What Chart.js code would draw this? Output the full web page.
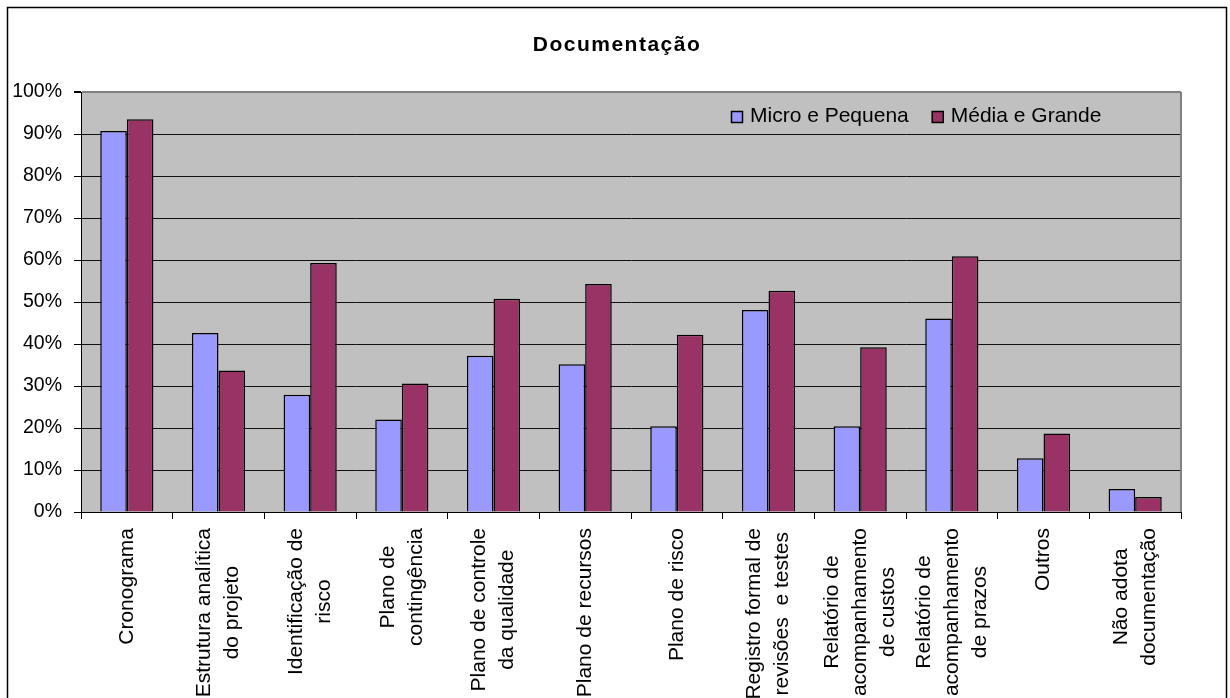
<!DOCTYPE html>
<html>
<head>
<meta charset="utf-8">
<script src="https://cdn.jsdelivr.net/npm/chart.js@4/dist/chart.umd.min.js"></script>
<style>
  body { margin: 0; background: #fff; overflow: hidden; }
</style>
</head>
<body>
<canvas id="myChart" width="1230" height="698"></canvas>
<script>
// dados (em %)
var titulo = 'Documentação';
var categorias = [
    ['Cronograma'],
    ['Estrutura analítica', 'do projeto'],
    ['Identificação de', 'risco'],
    ['Plano de', 'contingência'],
    ['Plano de controle', 'da qualidade'],
    ['Plano de recursos'],
    ['Plano de risco'],
    ['Registro formal de', 'revisões  e testes'],
    ['Relatório de', 'acompanhamento', 'de custos'],
    ['Relatório de', 'acompanhamento', 'de prazos'],
    ['Outros'],
    ['Não adota', 'documentação']
];
var microPequena = [90.7, 42.6, 27.9, 22.0, 37.2, 35.2, 20.4, 48.1, 20.4, 46.1, 12.8, 5.5];
var mediaGrande = [93.5, 33.7, 59.3, 30.6, 50.8, 54.3, 42.2, 52.7, 39.2, 60.9, 18.7, 3.6];
var nomesSeries = ['Micro e Pequena', 'Média e Grande'];
var yTicks = [0, 10, 20, 30, 40, 50, 60, 70, 80, 90, 100];

var fonte = "'Liberation Sans', Arial, sans-serif";

// fundo cinza, moldura, titulo, legenda e rotulos do eixo x
var extras = {
    id: 'extras',
    beforeDraw: function (chart) {
        var ctx = chart.ctx;
        var a = chart.chartArea;
        ctx.save();
        ctx.fillStyle = '#c0c0c0';
        ctx.fillRect(a.left, a.top, a.right - a.left, a.bottom - a.top);
        ctx.restore();
    },
    afterDraw: function (chart) {
        var ctx = chart.ctx;
        var a = chart.chartArea;
        ctx.save();

        // borda direita da area do grafico
        ctx.strokeStyle = '#808080';
        ctx.lineWidth = 2;
        ctx.beginPath();
        ctx.moveTo(a.right, a.top);
        ctx.lineTo(a.right, a.bottom);
        ctx.stroke();

        // moldura externa
        ctx.strokeStyle = '#000';
        ctx.lineWidth = 1.5;
        ctx.beginPath();
        ctx.moveTo(7.5, 720);
        ctx.lineTo(7.5, 7.5);
        ctx.lineTo(1226.5, 7.5);
        ctx.lineTo(1226.5, 720);
        ctx.stroke();

        // titulo
        ctx.fillStyle = '#000';
        ctx.font = 'bold 21px ' + fonte;
        ctx.letterSpacing = '1.5px';
        ctx.textAlign = 'center';
        ctx.textBaseline = 'alphabetic';
        ctx.fillText(titulo, 617, 51);
        ctx.letterSpacing = '0px';

        // legenda dentro da area
        ctx.font = '21px ' + fonte;
        ctx.textAlign = 'left';
        var lx = a.left + 650;
        chart.data.datasets.forEach(function (ds) {
            ctx.fillStyle = ds.backgroundColor;
            ctx.fillRect(lx, 111, 12, 12);
            ctx.strokeStyle = '#000';
            ctx.lineWidth = 1.5;
            ctx.strokeRect(lx + 0.5, 111.5, 11, 11);
            ctx.fillStyle = '#000';
            ctx.fillText(ds.label, lx + 19, 121.5);
            lx += 19 + ctx.measureText(ds.label).width + 23;
        });

        // rotulos do eixo x, rotacionados e centralizados
        var xs = chart.scales.x;
        ctx.font = '21px ' + fonte;
        ctx.textAlign = 'center';
        ctx.textBaseline = 'middle';
        ctx.fillStyle = '#000';
        var lh = 28;
        chart.data.labels.forEach(function (linhas, i) {
            var px = xs.getPixelForTick(i);
            var w = 0;
            linhas.forEach(function (l) { w = Math.max(w, ctx.measureText(l).width); });
            ctx.save();
            ctx.translate(px, 528 + w / 2);
            ctx.rotate(-Math.PI / 2);
            linhas.forEach(function (l, j) {
                ctx.fillText(l, 0, (j - (linhas.length - 1) / 2) * lh);
            });
            ctx.restore();
        });

        ctx.restore();
    }
};

var ctx = document.getElementById('myChart').getContext('2d');
var chart = new Chart(ctx, {
    type: 'bar',
    data: {
        labels: categorias,
        datasets: [{
            label: nomesSeries[0],
            data: microPequena,
            backgroundColor: '#9999ff',
            borderColor: '#000',
            borderWidth: 1.5
        }, {
            label: nomesSeries[1],
            data: mediaGrande,
            backgroundColor: '#993366',
            borderColor: '#000',
            borderWidth: 1.5
        }]
    },
    options: {
        responsive: false,
        animation: false,
        layout: { padding: { left: 0, right: 49, top: 92, bottom: 0 } },
        datasets: {
            bar: { categoryPercentage: 0.58, barPercentage: 1.0 }
        },
        plugins: {
            legend: { display: false },
            title: { display: false },
            tooltip: { enabled: false }
        },
        scales: {
            x: {
                afterFit: function (s) { s.height = 186; },
                grid: {
                    offset: true,
                    drawOnChartArea: false,
                    drawTicks: true,
                    tickLength: 7,
                    tickColor: '#000'
                },
                border: { color: '#000', width: 1 },
                ticks: { display: false }
            },
            y: {
                min: 0,
                max: 100,
                afterFit: function (s) { s.width = 81; },
                afterBuildTicks: function (s) {
                    s.ticks = yTicks.map(function (v) { return { value: v }; });
                },
                grid: {
                    color: function (c) { return c.tick && c.tick.value === 100 ? '#808080' : '#111'; },
                    lineWidth: function (c) { return c.tick && c.tick.value === 100 ? 2 : 1; },
                    tickLength: 7,
                    tickColor: '#000'
                },
                border: { color: '#000', width: 1 },
                ticks: {
                    color: '#000',
                    padding: 12,
                    font: { family: fonte, size: 19.5 },
                    callback: function (v) { return v + '%'; }
                }
            }
        }
    },
    plugins: [extras]
});
</script>
</body>
</html>
